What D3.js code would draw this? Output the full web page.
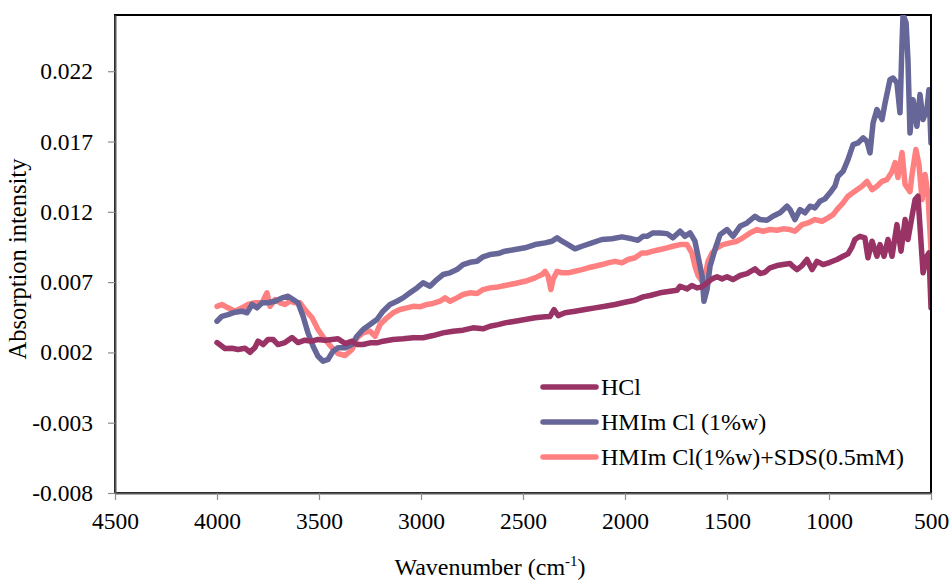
<!DOCTYPE html>
<html>
<head>
<meta charset="utf-8">
<script src="https://cdn.jsdelivr.net/npm/d3@7/dist/d3.min.js"></script>
<style>
  html, body { margin: 0; padding: 0; background: #fff; }
  svg text { font-family: "Liberation Serif", "Times New Roman", serif; fill: #000; }
</style>
</head>
<body>
<div id="chart"></div>
<script>
"use strict";

// [wavenumber cm-1, absorption]
const hclData = [
  [4000, 0.00270], [3961, 0.00228], [3926, 0.00230], [3897, 0.00221], [3863, 0.00230], [3838, 0.00201],
  [3814, 0.00235], [3799, 0.00280], [3774, 0.00256], [3750, 0.00292], [3725, 0.00292], [3701, 0.00256],
  [3667, 0.00270], [3632, 0.00306], [3603, 0.00270], [3569, 0.00287], [3534, 0.00280], [3505, 0.00292],
  [3471, 0.00287], [3436, 0.00292], [3407, 0.00297], [3372, 0.00263], [3338, 0.00280],
  [3314, 0.00256], [3284, 0.00256], [3250, 0.00268], [3216, 0.00268], [3186, 0.00280], [3137, 0.00292],
  [3088, 0.00297], [3039, 0.00304], [2990, 0.00304], [2941, 0.00320], [2892, 0.00339], [2843, 0.00351],
  [2794, 0.00358], [2745, 0.00375], [2696, 0.00368], [2662, 0.00386], [2622, 0.00398],
  [2588, 0.00410], [2539, 0.00422], [2490, 0.00434], [2441, 0.00446], [2392, 0.00453], [2368, 0.00455],
  [2348, 0.00505], [2328, 0.00462], [2294, 0.00482], [2245, 0.00493], [2196, 0.00505], [2147, 0.00517],
  [2098, 0.00528], [2049, 0.00541], [2000, 0.00557], [1951, 0.00571], [1912, 0.00595],
  [1877, 0.00605], [1828, 0.00624], [1779, 0.00635], [1745, 0.00642], [1730, 0.00671], [1696, 0.00652],
  [1672, 0.00676], [1647, 0.00659], [1622, 0.00666], [1598, 0.00695], [1573, 0.00723], [1549, 0.00738],
  [1524, 0.00723], [1500, 0.00738], [1471, 0.00718], [1436, 0.00747], [1402, 0.00761], [1363, 0.00794],
  [1338, 0.00761], [1314, 0.00770], [1289, 0.00802], [1255, 0.00818], [1225, 0.00825], [1191, 0.00832],
  [1181, 0.00818], [1157, 0.00789], [1132, 0.00818], [1108, 0.00861], [1083, 0.00789], [1059, 0.00848],
  [1029, 0.00825], [995, 0.00841], [961, 0.00861], [931, 0.00884], [907, 0.00901], [887, 0.00951],
  [873, 0.01003], [848, 0.01026], [824, 0.01015], [809, 0.00873], [789, 0.00991], [765, 0.00884],
  [750, 0.00967], [730, 0.00884], [711, 0.01003], [691, 0.00884], [667, 0.01109], [647, 0.00920],
  [627, 0.01145], [613, 0.01003], [593, 0.01168], [578, 0.01287], [564, 0.01311], [554, 0.01097],
  [539, 0.00766], [520, 0.00884], [510, 0.00908], [500, 0.00519]
];

const hmimData = [
  [4000, 0.00422], [3976, 0.00457], [3946, 0.00469], [3912, 0.00486], [3877, 0.00493], [3853, 0.00482],
  [3828, 0.00541], [3804, 0.00517], [3779, 0.00553], [3750, 0.00553], [3716, 0.00564], [3681, 0.00588],
  [3652, 0.00600], [3627, 0.00576], [3603, 0.00553], [3578, 0.00457], [3554, 0.00339], [3529, 0.00244],
  [3505, 0.00173], [3480, 0.00137], [3456, 0.00150], [3431, 0.00209], [3407, 0.00233], [3372, 0.00233],
  [3338, 0.00256],
  [3314, 0.00315], [3284, 0.00363], [3250, 0.00398], [3216, 0.00434], [3186, 0.00493], [3152, 0.00541],
  [3118, 0.00564], [3088, 0.00588], [3054, 0.00624], [3020, 0.00659], [2990, 0.00695], [2956, 0.00671],
  [2922, 0.00718], [2892, 0.00754], [2858, 0.00766], [2824, 0.00789], [2794, 0.00825], [2760, 0.00841],
  [2725, 0.00848], [2696, 0.00880], [2662, 0.00896], [2622, 0.00903],
  [2588, 0.00920], [2539, 0.00932], [2490, 0.00944], [2441, 0.00967], [2392, 0.00979], [2358, 0.00991],
  [2333, 0.01015], [2309, 0.00991], [2279, 0.00967], [2245, 0.00937], [2211, 0.00955], [2162, 0.00979],
  [2113, 0.01003], [2064, 0.01008], [2015, 0.01022], [1966, 0.01008], [1936, 0.00998], [1912, 0.01026],
  [1892, 0.01026], [1863, 0.01050], [1828, 0.01050], [1794, 0.01045], [1765, 0.01015], [1730, 0.01062],
  [1706, 0.01026], [1681, 0.01050], [1657, 0.00991], [1642, 0.00884], [1622, 0.00742], [1613, 0.00564],
  [1598, 0.00647], [1583, 0.00813], [1559, 0.00932], [1534, 0.01038], [1500, 0.01074], [1471, 0.01026],
  [1436, 0.01097], [1402, 0.01121], [1363, 0.01168], [1338, 0.01145], [1304, 0.01140], [1275, 0.01168],
  [1240, 0.01193], [1206, 0.01240],
  [1191, 0.01216], [1167, 0.01145], [1142, 0.01216], [1118, 0.01193], [1093, 0.01240], [1069, 0.01228],
  [1044, 0.01275], [1020, 0.01292], [995, 0.01335], [971, 0.01382], [956, 0.01453], [931, 0.01488],
  [907, 0.01571], [882, 0.01678], [858, 0.01690], [833, 0.01726], [814, 0.01702], [799, 0.01619],
  [784, 0.01832], [765, 0.01927], [740, 0.01856], [725, 0.01975], [701, 0.02140], [686, 0.02152],
  [667, 0.02117], [652, 0.01904], [642, 0.02401], [637, 0.02603], [622, 0.02543], [613, 0.02283],
  [603, 0.01761], [588, 0.01998], [569, 0.01808], [554, 0.02034], [539, 0.01856], [520, 0.01927],
  [510, 0.02069], [500, 0.01690]
];

const sdsData = [
  [4000, 0.00528], [3976, 0.00541], [3946, 0.00517], [3912, 0.00493], [3877, 0.00517], [3848, 0.00541],
  [3814, 0.00553], [3779, 0.00553], [3755, 0.00624], [3740, 0.00528], [3716, 0.00576], [3691, 0.00553],
  [3667, 0.00541], [3642, 0.00564], [3618, 0.00553], [3593, 0.00553], [3569, 0.00505], [3534, 0.00446],
  [3505, 0.00363], [3471, 0.00292], [3436, 0.00233], [3407, 0.00192], [3372, 0.00178], [3338, 0.00221],
  [3314, 0.00304], [3284, 0.00339], [3250, 0.00351], [3225, 0.00315], [3201, 0.00398], [3167, 0.00446],
  [3137, 0.00482], [3103, 0.00505], [3069, 0.00517], [3039, 0.00528], [3005, 0.00524], [2971, 0.00541],
  [2941, 0.00548], [2907, 0.00564], [2882, 0.00588], [2858, 0.00564], [2824, 0.00588], [2794, 0.00612],
  [2760, 0.00624], [2725, 0.00619], [2696, 0.00647], [2662, 0.00659], [2622, 0.00666],
  [2588, 0.00676], [2539, 0.00690], [2490, 0.00706], [2441, 0.00730], [2407, 0.00754], [2392, 0.00777],
  [2377, 0.00742], [2363, 0.00647], [2353, 0.00718], [2333, 0.00777], [2309, 0.00766], [2279, 0.00766],
  [2245, 0.00777], [2211, 0.00789], [2181, 0.00802], [2147, 0.00813], [2113, 0.00825], [2083, 0.00837],
  [2049, 0.00848], [2015, 0.00837], [1985, 0.00861], [1951, 0.00873], [1917, 0.00908],
  [1892, 0.00908], [1863, 0.00920], [1828, 0.00932], [1794, 0.00944], [1765, 0.00955], [1730, 0.00967],
  [1696, 0.00967], [1672, 0.00908], [1657, 0.00813], [1642, 0.00747], [1622, 0.00706], [1608, 0.00742],
  [1593, 0.00848], [1573, 0.00908], [1549, 0.00944], [1520, 0.00967], [1485, 0.00979], [1451, 0.00991],
  [1422, 0.01015], [1387, 0.01050], [1353, 0.01074], [1323, 0.01062], [1289, 0.01074], [1255, 0.01069],
  [1225, 0.01079], [1191, 0.01074],
  [1167, 0.01062], [1132, 0.01109], [1103, 0.01121], [1069, 0.01145], [1034, 0.01133], [1005, 0.01157],
  [980, 0.01180], [961, 0.01216], [931, 0.01264], [907, 0.01311], [873, 0.01346], [838, 0.01382],
  [814, 0.01417], [789, 0.01358], [765, 0.01382], [740, 0.01417], [716, 0.01429], [691, 0.01486],
  [676, 0.01550], [662, 0.01444], [642, 0.01621], [627, 0.01394], [603, 0.01344], [593, 0.01465],
  [574, 0.01643], [559, 0.01536], [544, 0.01287], [529, 0.01465], [515, 0.01323], [500, 0.00932]
];

const seriesNames = ["HCl", "HMIm Cl (1%w)", "HMIm Cl(1%w)+SDS(0.5mM)"];
const seriesColors = ["#993366", "#666699", "#ff8080"];
const xTicks = [4500, 4000, 3500, 3000, 2500, 2000, 1500, 1000, 500];
const yTicks = [-0.008, -0.003, 0.002, 0.007, 0.012, 0.017, 0.022];
const xDomain = [4500, 500];
const yDomain = [-0.008, 0.026];

(function () {
  const width = 952;
  const height = 580;
  const plot = { left: 115, right: 931, top: 15, bottom: 493 };
  const fontSize = 23.5;

  const svg = d3.select("#chart")
    .append("svg")
    .attr("width", width)
    .attr("height", height)
    .attr("viewBox", `0 0 ${width} ${height}`);

  const x = d3.scaleLinear().domain(xDomain).range([plot.left, plot.right]);
  const y = d3.scaleLinear().domain(yDomain).range([plot.bottom, plot.top]);

  svg.append("defs")
    .append("clipPath")
    .attr("id", "plot-clip")
    .append("rect")
    .attr("x", plot.left)
    .attr("y", plot.top)
    .attr("width", plot.right - plot.left)
    .attr("height", plot.bottom - plot.top);

  // plot frame (top + right are black)
  svg.append("rect")
    .attr("x", plot.left)
    .attr("y", plot.top)
    .attr("width", plot.right - plot.left)
    .attr("height", plot.bottom - plot.top)
    .attr("fill", "none")
    .attr("stroke", "#000")
    .attr("stroke-width", 2);

  const line = d3.line()
    .x((d) => x(d[0]))
    .y((d) => y(d[1]));

  const series = [hclData, hmimData, sdsData];
  const drawOrder = [2, 1, 0];
  const lineLayer = svg.append("g").attr("clip-path", "url(#plot-clip)");
  drawOrder.forEach((i) => {
    lineLayer.append("path")
      .datum(series[i])
      .attr("d", line)
      .attr("fill", "none")
      .attr("stroke", seriesColors[i])
      .attr("stroke-width", 5.5)
      .attr("stroke-linejoin", "round")
      .attr("stroke-linecap", "round");
  });

  // right edge drawn again over the lines
  svg.append("line")
    .attr("x1", plot.right).attr("x2", plot.right)
    .attr("y1", plot.top).attr("y2", plot.bottom)
    .attr("stroke", "#000").attr("stroke-width", 2);

  // excel style: plain hyphen for negatives
  const fmtY = (d) => d3.format(".3f")(d).replace("\u2212", "-");

  const xAxis = d3.axisBottom(x)
    .tickValues(xTicks)
    .tickSize(7)
    .tickSizeOuter(0)
    .tickPadding(12)
    .tickFormat(d3.format("d"));

  const yAxis = d3.axisLeft(y)
    .tickValues(yTicks)
    .tickSize(7)
    .tickSizeOuter(0)
    .tickPadding(15)
    .tickFormat(fmtY);

  const gx = svg.append("g")
    .attr("transform", `translate(0,${plot.bottom})`)
    .call(xAxis);
  const gy = svg.append("g")
    .attr("transform", `translate(${plot.left},0)`)
    .call(yAxis);

  [gx, gy].forEach((g) => {
    g.select(".domain").attr("stroke", "#595959").attr("stroke-width", 2);
    g.selectAll(".tick line").attr("stroke", "#8c8c8c").attr("stroke-width", 1.2);
    g.selectAll(".tick text")
      .attr("font-family", "Liberation Serif, Times New Roman, serif")
      .attr("font-size", fontSize)
      .attr("fill", "#000");
  });

  // axis titles
  svg.append("text")
    .attr("transform", `translate(26,${(plot.top + plot.bottom) / 2 + 5}) rotate(-90)`)
    .attr("text-anchor", "middle")
    .attr("font-size", 24.5)
    .text("Absorption intensity");

  const xTitle = svg.append("text")
    .attr("x", 490)
    .attr("y", 575)
    .attr("text-anchor", "middle")
    .attr("font-size", 24);
  xTitle.append("tspan").text("Wavenumber (cm");
  xTitle.append("tspan").attr("dy", -9).attr("font-size", 15).text("-1");
  xTitle.append("tspan").attr("dy", 9).text(")");

  // legend
  const legend = svg.append("g").attr("transform", "translate(543,387)");
  seriesNames.forEach((name, i) => {
    const row = legend.append("g").attr("transform", `translate(0,${i * 35})`);
    row.append("line")
      .attr("x1", 0).attr("x2", 53)
      .attr("stroke", seriesColors[i])
      .attr("stroke-width", 5.5)
      .attr("stroke-linecap", "round");
    row.append("text")
      .attr("x", 58)
      .attr("y", 8)
      .attr("font-size", 24)
      .text(name);
  });
})();
</script>
</body>
</html>
